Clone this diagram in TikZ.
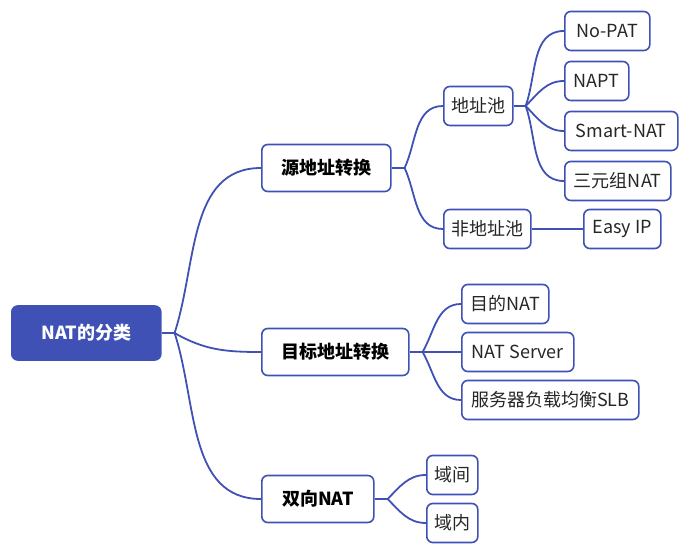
\documentclass[tikz,border=0pt]{standalone}
\usepackage{fontspec}
\setmainfont{Noto Sans CJK SC}
\usepackage{xcolor}
\definecolor{natblue}{RGB}{63,81,181}
\begin{document}
\begin{tikzpicture}[x=1pt,y=1pt,
    box/.style={draw=natblue, line width=1.6pt, rounded corners=6pt, fill=white,
        anchor=west, font=\fontsize{18}{21}\selectfont, text=black!85},
    topic/.style={box, minimum height=47pt, minimum width=#1, font=\fontsize{18}{21}\selectfont\bfseries, text=black},
    sub/.style={box, minimum height=39pt, minimum width=#1, inner xsep=6pt},
    link/.style={draw=natblue, line width=1.8pt},
    branch/.style={out=#1, in=180}]
    \useasboundingbox (0,0) rectangle (693,554);
    \node[box, fill=natblue, text=white, font=\fontsize{18}{21}\selectfont\bfseries,
        minimum height=54pt, minimum width=149pt] (root) at (11,221) {NAT的分类};

    \node[topic=129pt] (src) at (261,386) {源地址转换};
    \node[topic=147pt] (dst) at (261,202) {目标地址转换};
    \node[topic=112pt] (bi) at (261,55) {双向NAT};

    \node[sub=69pt] (pool) at (443,448) {地址池};
    \node[sub=87pt] (nopool) at (443,325) {非地址池};
    \node[sub=85pt] (nopat) at (564,523) {No-PAT};
    \node[sub=64pt] (napt) at (564,473) {NAPT};
    \node[sub=113pt] (smart) at (564,423) {Smart-NAT};
    \node[sub=106pt] (triple) at (564,373) {三元组NAT};
    \node[sub=77pt] (easyip) at (583,325) {Easy IP};

    \node[sub=87pt] (dnat) at (461,250) {目的NAT};
    \node[sub=112pt] (server) at (461,202) {NAT Server};
    \node[sub=177pt] (slb) at (461,154) {服务器负载均衡SLB};

    \node[sub=51pt] (inter) at (426,79) {域间};
    \node[sub=51pt] (intra) at (426,31) {域内};

    % connectors
    \draw[link] (root.east) -- ++(13,0) coordinate (jroot);
    \draw[link] (jroot) to[branch=72] (src.west);
    \draw[link] (jroot) to[branch=-30] (dst.west);
    \draw[link] (jroot) to[branch=-72] (bi.west);

    \draw[link] (src.east) -- ++(13,0) coordinate (jsrc);
    \draw[link] (jsrc) to[branch=65] (pool.west);
    \draw[link] (jsrc) to[branch=-65] (nopool.west);

    \draw[link] (pool.east) -- ++(12,0) coordinate (jpool);
    \draw[link] (jpool) to[branch=70] (nopat.west);
    \draw[link] (jpool) to[branch=45] (napt.west);
    \draw[link] (jpool) to[branch=-45] (smart.west);
    \draw[link] (jpool) to[branch=-70] (triple.west);
    \draw[link] (nopool.east) -- (easyip.west);

    \draw[link] (dst.east) -- ++(13,0) coordinate (jdst);
    \draw[link] (jdst) to[branch=60] (dnat.west);
    \draw[link] (jdst) -- (server.west);
    \draw[link] (jdst) to[branch=-60] (slb.west);

    \draw[link] (bi.east) -- ++(13,0) coordinate (jbi);
    \draw[link] (jbi) to[branch=45] (inter.west);
    \draw[link] (jbi) to[branch=-45] (intra.west);
\end{tikzpicture}
\end{document}
